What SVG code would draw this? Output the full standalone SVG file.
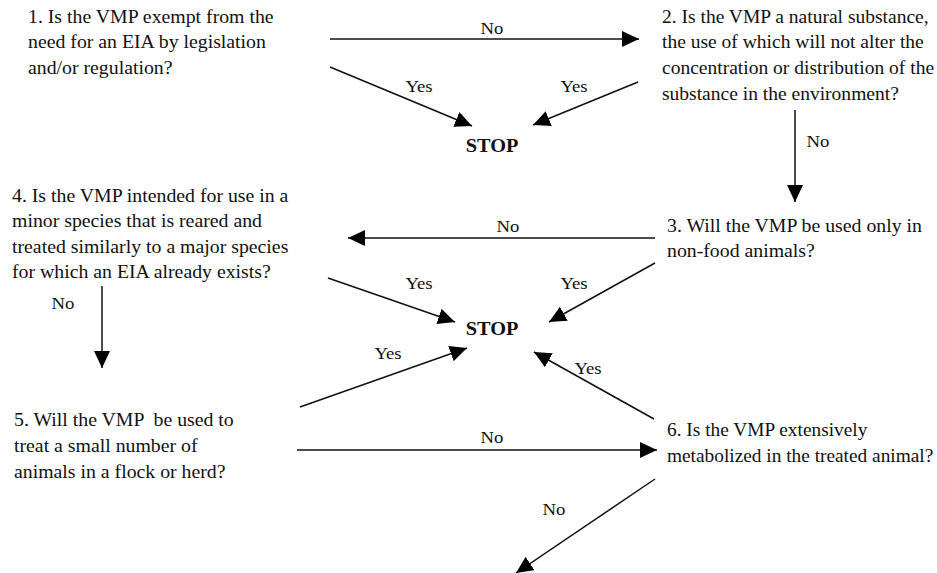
<svg xmlns="http://www.w3.org/2000/svg" width="937" height="573" viewBox="0 0 937 573">
  <style>
    .q { font-family: "Liberation Serif", "Times New Roman", serif; font-size: 18px; fill: #111; }
    .lbl { font-family: "Liberation Serif", "Times New Roman", serif; font-size: 17px; fill: #111; text-anchor: middle; }
    .stop { font-family: "Liberation Serif", "Times New Roman", serif; font-size: 18px; font-weight: bold; fill: #111; text-anchor: middle; }
    .edge { stroke: #111; stroke-width: 1.5; fill: none; marker-end: url(#head); }
  </style>
  <defs>
    <marker id="head" markerUnits="userSpaceOnUse" markerWidth="18" markerHeight="16" refX="17" refY="8" orient="auto">
      <path d="M0,0 L17,8 L0,16 Z" fill="#000"/>
    </marker>
  </defs>
  <rect width="937" height="573" fill="#fff"/>

  <!-- question text is set slightly wide via a horizontal scale -->
  <g id="q1" transform="translate(28,0) scale(1.1,1)">
    <text class="q" x="0" y="23">1. Is the VMP exempt from the</text>
    <text class="q" x="0" y="48">need for an EIA by legislation</text>
    <text class="q" x="0" y="74">and/or regulation?</text>
  </g>
  <g id="q2" transform="translate(662,0) scale(1.085,1)">
    <text class="q" x="0" y="23">2. Is the VMP a natural substance,</text>
    <text class="q" x="0" y="48">the use of which will not alter the</text>
    <text class="q" x="0" y="74">concentration or distribution of the</text>
    <text class="q" x="0" y="100">substance in the environment?</text>
  </g>
  <g id="stop1" transform="translate(492,152) scale(1.13,1)"><text class="stop" x="0" y="0">STOP</text></g>
  <g id="q3" transform="translate(667,0) scale(1.1,1)">
    <text class="q" x="0" y="232">3. Will the VMP be used only in</text>
    <text class="q" x="0" y="257">non-food animals?</text>
  </g>
  <g id="q4" transform="translate(12,0) scale(1.1,1)">
    <text class="q" x="0" y="202">4. Is the VMP intended for use in a</text>
    <text class="q" x="0" y="227">minor species that is reared and</text>
    <text class="q" x="0" y="253">treated similarly to a major species</text>
    <text class="q" x="0" y="278">for which an EIA already exists?</text>
  </g>
  <g id="stop2" transform="translate(492,335) scale(1.13,1)"><text class="stop" x="0" y="0">STOP</text></g>
  <g id="q5" transform="translate(14,0) scale(1.1,1)">
    <text class="q" x="0" y="426">5. Will the VMP &#160;be used to</text>
    <text class="q" x="0" y="452">treat a small number of</text>
    <text class="q" x="0" y="478">animals in a flock or herd?</text>
  </g>
  <g id="q6" transform="translate(667,0) scale(1.075,1)">
    <text class="q" x="0" y="436">6. Is the VMP extensively</text>
    <text class="q" x="0" y="462">metabolized in the treated animal?</text>
  </g>

  <g id="connectors">
    <line class="edge" x1="330" y1="39" x2="639" y2="39"/>
    <line class="edge" x1="330" y1="67" x2="472" y2="126"/>
    <line class="edge" x1="638" y1="82" x2="533" y2="125"/>
    <line class="edge" x1="795" y1="110" x2="795" y2="202"/>
    <line class="edge" x1="655" y1="238" x2="348" y2="238"/>
    <line class="edge" x1="102" y1="286" x2="102" y2="368"/>
    <line class="edge" x1="328" y1="278" x2="455" y2="322"/>
    <line class="edge" x1="655" y1="263" x2="549" y2="322"/>
    <line class="edge" x1="300" y1="407" x2="467" y2="348"/>
    <line class="edge" x1="654" y1="419" x2="534" y2="352"/>
    <line class="edge" x1="297" y1="450" x2="657" y2="450"/>
    <line class="edge" x1="655" y1="479" x2="516" y2="573"/>

    <text class="lbl" transform="translate(492,34) scale(1.1,1)">No</text>
    <text class="lbl" transform="translate(419,92) scale(1.1,1)">Yes</text>
    <text class="lbl" transform="translate(574,92) scale(1.1,1)">Yes</text>
    <text class="lbl" transform="translate(818,147) scale(1.1,1)">No</text>
    <text class="lbl" transform="translate(508,232) scale(1.1,1)">No</text>
    <text class="lbl" transform="translate(63,309) scale(1.1,1)">No</text>
    <text class="lbl" transform="translate(419,289) scale(1.1,1)">Yes</text>
    <text class="lbl" transform="translate(574,289) scale(1.1,1)">Yes</text>
    <text class="lbl" transform="translate(388,359) scale(1.1,1)">Yes</text>
    <text class="lbl" transform="translate(588,374) scale(1.1,1)">Yes</text>
    <text class="lbl" transform="translate(492,443) scale(1.1,1)">No</text>
    <text class="lbl" transform="translate(554,515) scale(1.1,1)">No</text>
  </g>
</svg>
